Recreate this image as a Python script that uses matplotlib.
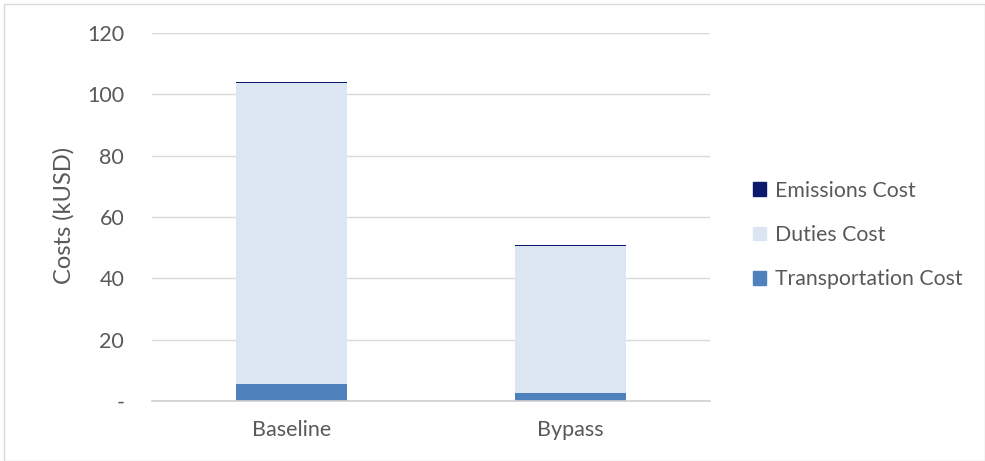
import matplotlib

matplotlib.use('agg')
import matplotlib.pyplot as plt
import matplotlib.patches as mpatches
import numpy as np

categories = ['Baseline', 'Bypass']
transport = [5.5, 2.6]
duties = [98.1, 47.9]
emissions = [0.4, 0.3]
yticks = [0, 20, 40, 60, 80, 100, 120]
ytick_labels = ['-', '20', '40', '60', '80', '100', '120']

TEXT = '#595959'
plt.rcParams['font.family'] = ['Lato', 'DejaVu Sans']

W, H = 985, 461
fig = plt.figure(figsize=(W / 100, H / 100), dpi=100)
ax = fig.add_axes([152 / W, 1 - 401 / H, (710 - 152) / W, (401 - 33) / H])

x = np.arange(len(categories))
t = np.array(transport)
d = np.array(duties)
e = np.array(emissions)
ax.bar(x, t, width=0.4, color='#4f81bd', zorder=3)
ax.bar(x, d, width=0.4, bottom=t, color='#dce6f2', zorder=3)
ax.bar(x, e, width=0.4, bottom=t + d, color='#0c1a6b', zorder=3)

ax.set_xlim(-0.5, 1.5)
ax.set_ylim(0, 120)
ax.set_yticks(yticks)
ax.set_yticklabels(ytick_labels)
ax.set_xticks(x)
ax.set_xticklabels(categories)
ax.tick_params(length=0, labelsize=15.5, colors=TEXT)
ax.tick_params(axis='y', pad=20)
ax.tick_params(axis='x', pad=14)
ax.grid(axis='y', color='#d9d9d9', linewidth=1, zorder=0)
for s in ['top', 'right', 'left']:
    ax.spines[s].set_visible(False)
ax.spines['bottom'].set_color('#d0d0d0')
ax.spines['bottom'].set_linewidth(1.2)
ax.spines['bottom'].set_zorder(4)

fig.text(64 / W, 1 - 215 / H, 'Costs (kUSD)', rotation=90, ha='center', va='center',
         fontsize=17, color=TEXT)

handles = [mpatches.Patch(color='#0c1a6b', label='Emissions Cost'),
           mpatches.Patch(color='#dce6f2', label='Duties Cost'),
           mpatches.Patch(color='#4f81bd', label='Transportation Cost')]
fig.legend(handles=handles, loc='center left', bbox_to_anchor=(734 / W, 1 - 235 / H),
           frameon=False, fontsize=15.3, labelcolor=TEXT, handlelength=0.62,
           handleheight=0.62, handletextpad=0.42, labelspacing=1.15)

fig.patches.append(mpatches.Rectangle((4 / W, 0), 1 - 4 / W, 1 - 4 / H,
                                      transform=fig.transFigure, fill=False,
                                      edgecolor='#d9d9d9', linewidth=1))

fig.savefig('out.png', dpi=100)
